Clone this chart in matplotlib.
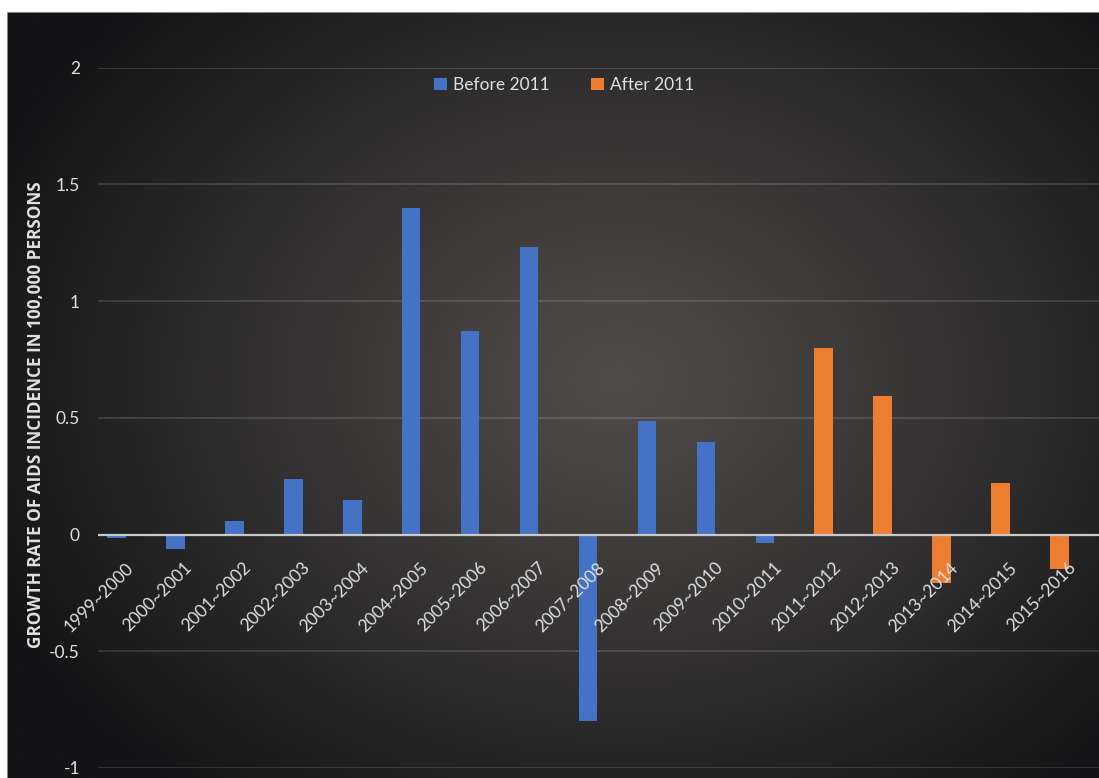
import numpy as np
import matplotlib
matplotlib.use("Agg")
import matplotlib.pyplot as plt
import matplotlib.transforms as mtransforms
from matplotlib.lines import Line2D

plt.rcParams['font.family'] = ['Lato', 'DejaVu Sans']

# ---------------- data ----------------
categories = ["1999~2000", "2000~2001", "2001~2002", "2002~2003", "2003~2004",
              "2004~2005", "2005~2006", "2006~2007", "2007~2008", "2008~2009",
              "2009~2010", "2010~2011", "2011~2012", "2012~2013", "2013~2014",
              "2014~2015", "2015~2016"]
before_2011 = [-0.015, -0.063, 0.057, 0.238, 0.148, 1.40, 0.871, 1.233,
               -0.797, 0.488, 0.398, -0.037]
after_2011 = [0.797, 0.593, -0.207, 0.22, -0.147]
y_ticks = [-1, -0.5, 0, 0.5, 1, 1.5, 2]
y_tick_labels = ["-1", "-0.5", "0", "0.5", "1", "1.5", "2"]
series_names = ["Before 2011", "After 2011"]
ylabel = "GROWTH RATE OF AIDS INCIDENCE IN 100,000 PERSONS"

BLUE = "#4472C4"
ORANGE = "#ED7D31"
TXT = "#e0e0e0"

W, H = 1099, 778
fig = plt.figure(figsize=(W / 100, H / 100), dpi=100, facecolor="white")

# ---------------- gradient background ----------------
bx0, btop = 7, 11.5
bg = fig.add_axes([bx0 / W, 0, 1 - bx0 / W, (H - btop) / H])
bg.set_axis_off()
ny, nx = 400, 560
yy, xx = np.mgrid[0:1:ny * 1j, 0:1:nx * 1j]
cx, cy = 0.56, 0.48
r = np.sqrt(((xx - cx) / 0.62) ** 2 + ((yy - cy) / 0.70) ** 2)
t = np.clip(r, 0, 1) ** 1.1
c_center = np.array([80, 76, 74]) / 255
c_edge = np.array([20, 20, 22]) / 255
img = c_center[None, None, :] * (1 - t[..., None]) + c_edge[None, None, :] * t[..., None]
bg.imshow(img, extent=[0, 1, 0, 1], aspect="auto", origin="upper", interpolation="bilinear")
bg.set_xlim(0, 1)
bg.set_ylim(0, 1)
bg.add_line(Line2D([0, 1], [1, 1], color="#9a9a9a", lw=1.2, transform=bg.transAxes))
bg.add_line(Line2D([0, 0], [0, 1], color="#9a9a9a", lw=1.2, transform=bg.transAxes))

# ---------------- main axes ----------------
ax_left, ax_right = 98, 1099
ax_top, ax_bot = 67.5, 768
ax = fig.add_axes([ax_left / W, (H - ax_bot) / H, (ax_right - ax_left) / W, (ax_bot - ax_top) / H])
ax.patch.set_alpha(0)
ax.set_axisbelow(False)

x_before = np.arange(len(before_2011))
x_after = np.arange(len(before_2011), len(before_2011) + len(after_2011))
bw = 0.315
ax.bar(x_before, before_2011, width=bw, color=BLUE, label=series_names[0], zorder=2)
ax.bar(x_after, after_2011, width=bw, color=ORANGE, label=series_names[1], zorder=2)

ax.set_xlim(-0.314, 16.67)
ax.set_ylim(-1, 2)

for v in y_ticks:
    if v == 0:
        continue
    ax.axhline(v, color="white", alpha=0.13, lw=1.5, zorder=1)
ax.axhline(0, color="#c8c8c8", lw=1.6, zorder=3)

for s in ax.spines.values():
    s.set_visible(False)
ax.spines["bottom"].set_position(("data", 0))

ax.set_yticks(y_ticks)
ax.set_yticklabels(y_tick_labels, fontsize=12.5, color=TXT)
ax.tick_params(axis="y", length=0, pad=13)

ax.set_xticks(range(len(categories)))
ax.set_xticklabels(categories, rotation=45, ha="right", va="top", fontsize=12.5, color=TXT)
ax.tick_params(axis="x", length=0, pad=18)
offset = mtransforms.ScaledTranslation(0.20, 0, fig.dpi_scale_trans)
for lab in ax.get_xticklabels():
    lab.set_transform(lab.get_transform() + offset)

fig.text(36.5 / W, (H - 415) / H, ylabel, rotation=90, ha="center", va="center",
         fontsize=12.3, fontweight="bold", color=TXT, family=["Open Sans", "DejaVu Sans"])

leg = ax.legend(loc="center", bbox_to_anchor=(0.4655, 0.975), ncol=2, frameon=False,
                fontsize=12.5, handlelength=0.72, handleheight=0.72, handletextpad=0.35,
                columnspacing=2.4, labelcolor=TXT)

fig.savefig("out.png", dpi=100, facecolor="white")
